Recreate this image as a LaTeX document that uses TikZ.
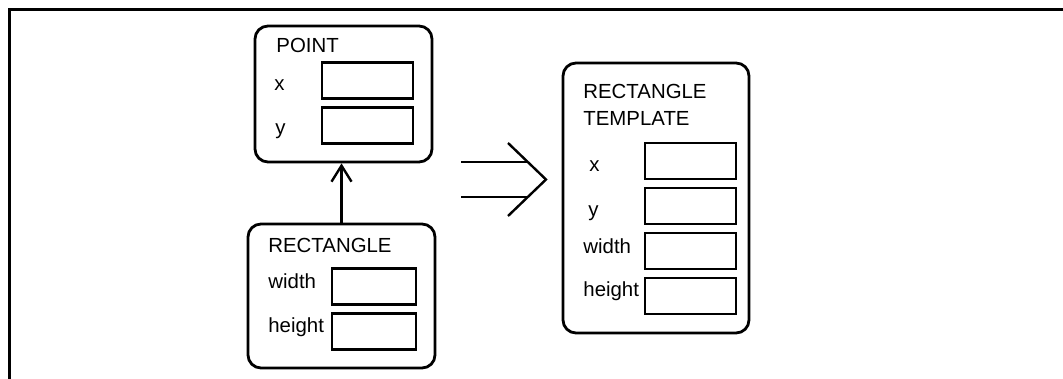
\documentclass[tikz,border=0pt]{standalone}
\usepackage{fontspec}
\setmainfont{Liberation Sans}
\usetikzlibrary{arrows.meta}

\begin{document}
\begin{tikzpicture}[x=0.5pt,y=-0.5pt,
      every node/.style={font=\fontsize{10.2}{12}\selectfont},
      obj/.style={draw,line width=1.4pt,rounded corners=6.5pt,inner sep=0pt},
      slot/.style={draw,line width=1.4pt,inner sep=0pt,minimum height=18pt},
      lbl/.style={anchor=base west,inner sep=0pt}]
          \useasboundingbox (0,0) rectangle (1063,379);
          \draw[line width=1.5pt] (9,379) -- (9,10) -- (1063,10);
            % POINT
            \node[obj,minimum width=88.5pt,minimum height=68pt] (point) at (343.5,94) {};
            \node[lbl] (pointname) at (276,53) {POINT};
            \node[lbl] (pointxl) at (274,91) {x};
            \node[lbl] (pointyl) at (275,135) {y};
            \node[slot,minimum width=45.5pt] (pointx) at (367.5,80.5) {};
            \node[slot,minimum width=45.5pt] (pointy) at (367.5,125.5) {};
            % RECTANGLE
            \node[obj,minimum width=93.5pt,minimum height=72pt] (rect) at (341.5,296) {};
            \node[lbl] (rectname) at (268,252) {RECTANGLE};
            \node[lbl] (rectwl) at (268,288) {width};
            \node[lbl] (recthl) at (268,332) {height};
            \node[slot,minimum width=42pt] (rectw) at (374,286.5) {};
            \node[slot,minimum width=42pt] (recth) at (374,331.5) {};
            \draw[line width=1.2pt,-{Straight Barb[length=8pt,width=10pt]}] (rect.north) -- (rect.north |- point.south);
            % RECTANGLE TEMPLATE
            \node[obj,minimum width=93pt,minimum height=135pt] (tmpl) at (656,198) {};
            \node[lbl] (tmplname) at (583,99) {RECTANGLE};
            \node[lbl] (tmplname2) at (583,126) {TEMPLATE};
            \node[lbl] (tmplxl) at (589,171) {x};
            \node[lbl] (tmplyl) at (588,216) {y};
            \node[lbl] (tmplwl) at (583,253) {width};
            \node[lbl] (tmplhl) at (583,296) {height};
            \node[slot,minimum width=45.5pt] (tmplx) at (690.5,161) {};
            \node[slot,minimum width=45.5pt] (tmply) at (690.5,206) {};
            \node[slot,minimum width=45.5pt] (tmplw) at (690.5,251) {};
            \node[slot,minimum width=45.5pt] (tmplh) at (690.5,296) {};
            % double arrow
            \coordinate (tip) at (546,179.5);
            \coordinate (arma) at (508,143);
            \coordinate (armb) at (508,216);
            \coordinate (linea) at (461,162);
            \coordinate (lineb) at (461,197);
            \draw[line width=1.2pt] (arma) -- (tip) -- (armb);
            \draw[line width=1.2pt] (linea) -- (528,162);
            \draw[line width=1.2pt] (lineb) -- (528,197);
\end{tikzpicture}
\end{document}
